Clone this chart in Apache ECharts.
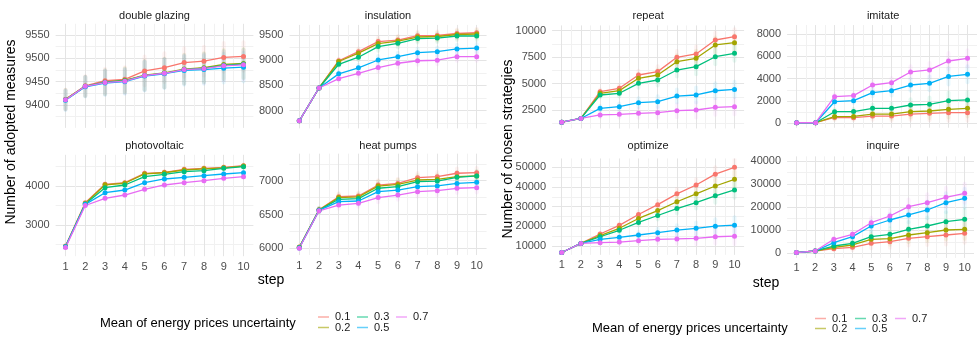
<!DOCTYPE html>
<html>
<head>
<meta charset="utf-8">
<script src="https://cdn.jsdelivr.net/npm/echarts@6/dist/echarts.min.js"></script>
<style>
  html, body { margin: 0; padding: 0; background: #ffffff; }
  #chart { width: 977px; height: 340px; }
</style>
</head>
<body>
<div id="chart"></div>
<script>
// Simulation steps and the uncertainty levels compared in every panel
const steps = [1, 2, 3, 4, 5, 6, 7, 8, 9, 10];
const levels = ['0.1', '0.2', '0.3', '0.5', '0.7'];
const palette = ['#F8766D', '#A3A500', '#00BF7D', '#00B0F6', '#E76BF3'];

// Mean number of adopted measures per step (rows follow `levels`)
const doubleGlazing = [
  [9412, 9441, 9452, 9455, 9473, 9480, 9491, 9494, 9502, 9504],
  [9412, 9440, 9449, 9453, 9464, 9469, 9477, 9480, 9487, 9489],
  [9411, 9440, 9449, 9452, 9463, 9468, 9476, 9479, 9485, 9488],
  [9410, 9439, 9447, 9450, 9462, 9467, 9474, 9476, 9479, 9481],
  [9411, 9440, 9448, 9451, 9463, 9468, 9476, 9478, 9484, 9486]
];
const insulation = [
  [7800, 8450, 8990, 9170, 9370, 9400, 9485, 9490, 9530, 9545],
  [7800, 8450, 8975, 9140, 9330, 9380, 9460, 9470, 9510, 9520],
  [7800, 8450, 8920, 9060, 9270, 9335, 9430, 9440, 9480, 9480],
  [7800, 8450, 8730, 8850, 9005, 9070, 9150, 9170, 9225, 9240],
  [7800, 8450, 8635, 8740, 8855, 8940, 8990, 9000, 9070, 9070]
];
const photovoltaic = [
  [2460, 3570, 4044, 4085, 4325, 4350, 4427, 4453, 4478, 4521],
  [2450, 3550, 4030, 4070, 4310, 4340, 4410, 4440, 4465, 4510],
  [2440, 3540, 3957, 4026, 4240, 4300, 4367, 4393, 4453, 4496],
  [2440, 3530, 3828, 3897, 4085, 4180, 4222, 4265, 4308, 4342],
  [2420, 3500, 3684, 3769, 3915, 4026, 4085, 4137, 4197, 4240]
];
const heatPumps = [
  [6020, 6570, 6763, 6774, 6936, 6960, 7045, 7060, 7110, 7118],
  [6015, 6565, 6750, 6760, 6920, 6945, 7010, 7020, 7060, 7070],
  [6010, 6565, 6725, 6735, 6888, 6911, 6985, 6995, 7050, 7070],
  [6005, 6560, 6690, 6700, 6838, 6862, 6911, 6922, 6960, 6976],
  [6000, 6555, 6640, 6665, 6750, 6788, 6838, 6852, 6888, 6897]
];

// Mean number of chosen strategies per step (rows follow `levels`)
const repeat = [
  [1350, 1700, 4230, 4550, 5810, 6130, 7480, 7800, 9120, 9430],
  [1350, 1700, 4080, 4330, 5500, 5810, 7070, 7390, 8650, 8870],
  [1350, 1700, 3920, 4080, 5025, 5336, 6280, 6600, 7540, 7860],
  [1350, 1700, 2660, 2815, 3190, 3285, 3820, 3920, 4320, 4450],
  [1350, 1700, 2030, 2090, 2185, 2250, 2435, 2500, 2750, 2815]
];
const imitate = [
  [50, 50, 520, 500, 650, 650, 830, 890, 950, 950],
  [50, 50, 600, 620, 830, 830, 1040, 1100, 1250, 1340],
  [50, 50, 1040, 1050, 1340, 1340, 1640, 1700, 2030, 2090],
  [50, 50, 1935, 2030, 2740, 2920, 3430, 3580, 4200, 4390],
  [50, 50, 2383, 2480, 3430, 3640, 4600, 4780, 5580, 5820]
];
const optimize = [
  [6700, 11300, 16100, 20500, 26000, 31000, 36500, 41000, 46500, 50000],
  [6700, 11300, 15300, 19000, 24000, 28000, 32500, 36500, 40500, 43900],
  [6700, 11300, 14700, 18000, 22000, 25500, 29000, 32000, 35500, 38500],
  [6700, 11300, 13400, 14400, 15600, 16760, 18100, 19000, 20100, 20600],
  [6700, 11300, 11700, 12000, 12700, 13400, 13600, 13900, 14700, 15000]
];
const inquire = [
  [300, 1000, 2000, 2600, 4330, 5030, 6500, 7200, 7930, 8670],
  [300, 1000, 2600, 3600, 6070, 6330, 7930, 8930, 10100, 10400],
  [300, 1000, 3160, 4330, 7200, 8230, 10400, 11830, 13700, 14730],
  [300, 1000, 4600, 7200, 11830, 14430, 16600, 18770, 21930, 23830],
  [300, 1000, 6070, 8230, 13260, 16160, 20200, 21930, 24270, 26000]
];

// Typical half-range of the individual runs around each mean, per step
const spreadDoubleGlazing = [25, 25, 30, 30, 35, 35, 35, 35, 35, 35];
const spreadInsulation = [20, 30, 80, 100, 120, 120, 120, 120, 120, 120];
const spreadPhotovoltaic = [60, 60, 80, 80, 80, 80, 80, 80, 80, 80];
const spreadHeatPumps = [40, 60, 80, 80, 100, 100, 100, 100, 100, 100];
const spreadRepeat = [100, 100, 400, 500, 600, 700, 800, 900, 900, 900];
const spreadImitate = [50, 50, 400, 400, 500, 600, 700, 800, 900, 900];
const spreadOptimize = [300, 500, 1500, 2000, 2500, 3000, 3500, 4000, 4500, 5000];
const spreadInquire = [200, 300, 1500, 2000, 3000, 3500, 4000, 4500, 5000, 5000];

const FONT = '"Liberation Sans", Arial, sans-serif';
const MAJOR = '#e4e4e4';
const MINOR = '#f1f1f1';
const NONE = 'rgba(0,0,0,0)';

// Panel placement: pixel x of steps 1 and 10, two reference ticks for the
// y scale, the visible value range, and the tick spacing
const panels = [
  { title: 'double glazing', values: doubleGlazing, spread: spreadDoubleGlazing,
    x1: 65.5, x10: 243.5, refA: [9550, 35], refB: [9400, 105],
    min: 9351, max: 9574, fine: 1, major: 50, xLabels: false },
  { title: 'insulation', values: insulation, spread: spreadInsulation,
    x1: 299.3, x10: 476.7, refA: [9500, 35], refB: [8000, 110.7],
    min: 7650, max: 9700, fine: 50, major: 500, xLabels: false },
  { title: 'photovoltaic', values: photovoltaic, spread: spreadPhotovoltaic,
    x1: 65.5, x10: 243.5, refA: [4000, 186], refB: [3000, 225],
    min: 2200, max: 4800, fine: 100, major: 1000, xLabels: true },
  { title: 'heat pumps', values: heatPumps, spread: spreadHeatPumps,
    x1: 299.3, x10: 476.7, refA: [7000, 180.7], refB: [6000, 248.3],
    min: 5900, max: 7400, fine: 50, major: 500, xLabels: true },
  { title: 'repeat', values: repeat, spread: spreadRepeat,
    x1: 561.7, x10: 734.5, refA: [10000, 30.7], refB: [2500, 110],
    min: 750, max: 10500, fine: 250, major: 2500, xLabels: false },
  { title: 'imitate', values: imitate, spread: spreadImitate,
    x1: 796.7, x10: 969.5, refA: [8000, 34], refB: [0, 123.3],
    min: -400, max: 8800, fine: 200, major: 2000, xLabels: false },
  { title: 'optimize', values: optimize, spread: spreadOptimize,
    x1: 561.7, x10: 734.5, refA: [50000, 167.3], refB: [10000, 246],
    min: 5500, max: 54500, fine: 500, major: 10000, xLabels: true },
  { title: 'inquire', values: inquire, spread: spreadInquire,
    x1: 796.7, x10: 969.5, refA: [40000, 161], refB: [0, 253.3],
    min: -2000, max: 42000, fine: 1000, major: 10000, xLabels: true }
];

function mod(a, b) { return ((a % b) + b) % b; }

// One colour per split line: major ticks, half-way minor ticks, rest hidden
function yLineColors(p) {
  const n = Math.round((p.max - p.min) / p.fine);
  const per = Math.round(p.major / p.fine);
  const start = Math.round(p.min / p.fine);
  const out = [];
  for (let i = 0; i <= n; i++) {
    const k = start + i;
    out.push(mod(k, per) === 0 ? MAJOR : (mod(k, per / 2) === 0 ? MINOR : NONE));
  }
  return out;
}
function xLineColors() {
  const out = [];
  for (let i = 0; i <= 20; i++) {
    out.push(i === 0 || i === 20 ? NONE : (i % 2 === 1 ? MAJOR : MINOR));
  }
  return out;
}

const grids = [], xAxes = [], yAxes = [], series = [], graphics = [];

panels.forEach((p, pi) => {
  const unit = (p.x10 - p.x1) / 9;
  const left = p.x1 - 0.5 * unit;
  const width = 10 * unit;
  const pxPerVal = (p.refB[1] - p.refA[1]) / (p.refA[0] - p.refB[0]);
  const top = p.refA[1] - (p.max - p.refA[0]) * pxPerVal;
  const height = (p.max - p.min) * pxPerVal;
  grids.push({ left: left, top: top, width: width, height: height, containLabel: false });

  xAxes.push({
    type: 'value', gridIndex: pi, min: 0.5, max: 10.5, interval: 0.5,
    axisLine: { show: false }, axisTick: { show: false },
    axisLabel: {
      show: p.xLabels, margin: 5, color: '#4d4d4d', fontSize: 11, fontFamily: FONT,
      formatter: v => (Number.isInteger(v) && v >= 1 && v <= 10 ? String(v) : '')
    },
    splitLine: { show: true, lineStyle: { color: xLineColors(), width: 1 } }
  });
  yAxes.push({
    type: 'value', gridIndex: pi, min: p.min, max: p.max, interval: p.fine,
    axisLine: { show: false }, axisTick: { show: false },
    axisLabel: {
      margin: 6, color: '#4d4d4d', fontSize: 11, fontFamily: FONT,
      formatter: v => (mod(Math.round(v / p.fine), Math.round(p.major / p.fine)) === 0 ? String(Math.round(v)) : '')
    },
    splitLine: { show: true, lineStyle: { color: yLineColors(p), width: 1 } }
  });

  // run spread behind the mean lines
  levels.forEach((lv, li) => {
    series.push({
      type: 'custom', name: lv, xAxisIndex: pi, yAxisIndex: pi, z: 1, clip: true,
      silent: true,
      data: steps.map((s, i) => [s, p.values[li][i] - p.spread[i], p.values[li][i] + p.spread[i]]),
      renderItem: (params, api) => {
        const hi = api.coord([api.value(0), api.value(2)]);
        const lo = api.coord([api.value(0), api.value(1)]);
        return {
          type: 'rect',
          shape: { x: hi[0] - 2, y: hi[1], width: 4, height: lo[1] - hi[1], r: 2 },
          style: { fill: palette[li], opacity: 0.09 }
        };
      }
    });
  });
  // mean lines with points
  levels.forEach((lv, li) => {
    series.push({
      type: 'line', name: lv, xAxisIndex: pi, yAxisIndex: pi, z: 3,
      data: steps.map((s, i) => [s, p.values[li][i]]),
      symbol: 'circle', symbolSize: 5, showSymbol: true,
      lineStyle: { color: palette[li], width: 1.3 },
      itemStyle: { color: palette[li] },
      emphasis: { disabled: true }
    });
  });

  // facet strip title
  graphics.push({
    type: 'text', x: left + width / 2, y: pi % 4 < 2 ? 15.5 : 145.5,
    style: { text: p.title, fill: '#1a1a1a', font: '11px ' + FONT, textAlign: 'center', textVerticalAlign: 'middle' }
  });
});

// axis titles
graphics.push(
  { type: 'text', x: 11, y: 132, rotation: Math.PI / 2,
    style: { text: 'Number of adopted measures', fill: '#000', font: '14px ' + FONT, textAlign: 'center', textVerticalAlign: 'middle' } },
  { type: 'text', x: 508, y: 149, rotation: Math.PI / 2,
    style: { text: 'Number of chosen strategies', fill: '#000', font: '14px ' + FONT, textAlign: 'center', textVerticalAlign: 'middle' } },
  { type: 'text', x: 271, y: 280.5,
    style: { text: 'step', fill: '#000', font: '14px ' + FONT, textAlign: 'center', textVerticalAlign: 'middle' } },
  { type: 'text', x: 766, y: 283,
    style: { text: 'step', fill: '#000', font: '14px ' + FONT, textAlign: 'center', textVerticalAlign: 'middle' } }
);

// legends: title and keys filled column by column
function addLegend(titleX, titleY, keyX, colGap, row1Y, row2Y) {
  graphics.push({ type: 'text', x: titleX, y: titleY,
    style: { text: 'Mean of energy prices uncertainty', fill: '#000', font: '13px ' + FONT, textAlign: 'left', textVerticalAlign: 'middle' } });
  levels.forEach((lv, li) => {
    const col = Math.floor(li / 2);
    const y = li % 2 === 0 ? row1Y : row2Y;
    const x = keyX + col * colGap;
    graphics.push({ type: 'line', shape: { x1: x, y1: y, x2: x + 11, y2: y },
      style: { stroke: palette[li], lineWidth: 1.5, opacity: 0.6 } });
    graphics.push({ type: 'text', x: x + 17, y: y,
      style: { text: lv, fill: '#1a1a1a', font: '11px ' + FONT, textAlign: 'left', textVerticalAlign: 'middle' } });
  });
}
addLegend(100, 323.5, 318, 39, 317, 327.5);
addLegend(592, 328, 815, 40, 318.5, 328.5);

const chart = echarts.init(document.getElementById('chart'), null, { renderer: 'canvas' });
chart.setOption({
  animation: false,
  backgroundColor: '#ffffff',
  grid: grids,
  xAxis: xAxes,
  yAxis: yAxes,
  series: series,
  graphic: graphics
});
</script>
</body>
</html>
